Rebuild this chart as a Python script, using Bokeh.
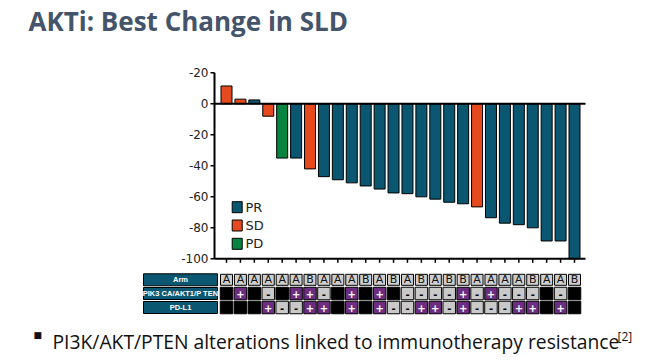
from bokeh.plotting import figure
from bokeh.models import Range1d, ColumnDataSource, Label
from bokeh.core.properties import value
from bokeh.embed import file_html
from bokeh.resources import INLINE

# ---------------- data ----------------
title_text = "AKTi: Best Change in SLD"
footnote_text = "PI3K/AKT/PTEN alterations linked to immunotherapy resistance"
footnote_ref = "[2]"

best_change = [11.5, 3, 2.5, -8, -35, -35, -42, -47, -49, -51, -53, -55, -57.5,
               -58, -60, -61.5, -63.5, -64.5, -66.5, -73.5, -77, -78, -80,
               -88.5, -88.5, -100]
response = ["SD", "SD", "PR", "SD", "PD", "PR", "SD", "PR", "PR", "PR", "PR",
            "PR", "PR", "PR", "PR", "PR", "PR", "PR", "SD", "PR", "PR", "PR",
            "PR", "PR", "PR", "PR"]

y_ticks = [20, 0, -20, -40, -60, -80, -100]
y_tick_labels = ["-20", "0", "-20", "-40", "-60", "-80", "-100"]

legend_labels = ["PR", "SD", "PD"]

row_labels = ["Arm", "PIK3 CA/AKT1/P TEN", "PD-L1"]
arm = ["A", "A", "A", "A", "A", "A", "B", "A", "A", "A", "B", "A", "B", "A",
       "B", "A", "B", "B", "A", "A", "A", "A", "B", "A", "A", "B"]
pik3 = ["", "+", "", "-", "", "+", "+", "-", "", "+", "", "+", "", "-", "-",
        "-", "-", "+", "-", "+", "-", "-", "-", "", "-", ""]
pdl1 = ["", "", "", "+", "-", "-", "+", "+", "", "+", "", "+", "-", "-", "+",
        "+", "-", "+", "-", "-", "-", "+", "+", "", "+", ""]

# ---------------- styles ----------------
COLORS = {"PR": "#0b5670", "SD": "#e5491e", "PD": "#07843f"}
CELL_COLORS = {"+": "#6c2c80", "-": "#c9c9c9", "": "#000000"}
TEXT_DARK = "#222222"

W, H = 667, 361
PXX = 13.92          # pixels per bar slot
PXY = 1.55           # pixels per percentage point
BAR1_PX = 226.0      # canvas x of the first bar
ZERO_PY = 103.3      # canvas y of the zero line

x_start = 1 - BAR1_PX / PXX
y_top = ZERO_PY / PXY


def dx(px):
    return x_start + px / PXX


def dy(py):
    return y_top - py / PXY


p = figure(width=W, height=H, output_backend="svg", toolbar_location=None,
           x_axis_type=None, y_axis_type=None,
           x_range=Range1d(x_start, x_start + W / PXX),
           y_range=Range1d(y_top - H / PXY, y_top),
           min_border=0, min_border_left=0, min_border_right=0,
           min_border_top=0, min_border_bottom=0)
p.outline_line_color = None
p.background_fill_color = "white"
p.border_fill_color = "white"
p.title.visible = False

n = len(best_change)
xs = list(range(1, n + 1))
x0 = dx(214)            # y-axis position
x1 = dx(585)            # right end of the axes
y_min, y_max = min(y_ticks), max(y_ticks)

# ---------------- bars ----------------
bars = ColumnDataSource(dict(x=xs, top=best_change,
                             color=[COLORS[r] for r in response]))
p.vbar(x="x", top="top", bottom=0, width=11 / PXX, source=bars,
       fill_color="color", line_color="black", line_width=1)

# ---------------- axes ----------------
p.segment(x0=[x0, x0, x0], y0=[y_min, y_min, 0], x1=[x0, x1, x1],
          y1=[y_max, y_min, 0], line_color="black", line_width=2)
p.segment(x0=[x0 - 4 / PXX] * len(y_ticks), y0=y_ticks,
          x1=[x0] * len(y_ticks), y1=y_ticks, line_color="black", line_width=1.5)
p.text(x=[x0 - 6 / PXX] * len(y_ticks), y=y_ticks, text=y_tick_labels,
       text_font=value("DejaVu Sans"), text_font_size="12px",
       text_color=TEXT_DARK, text_align="right", text_baseline="middle")
p.segment(x0=xs, y0=[y_min] * n, x1=xs, y1=[y_min - 4 / PXY] * n,
          line_color="black", line_width=1.5)

# ---------------- legend ----------------
leg_y = [dy(206.7 + 18.3 * i) for i in range(len(legend_labels))]
p.rect(x=[dx(236.7)] * 3, y=leg_y, width=10, height=11, width_units="screen",
       height_units="screen", fill_color=[COLORS[k] for k in legend_labels],
       line_color="black", line_width=1)
p.text(x=[dx(245)] * 3, y=leg_y, text=legend_labels,
       text_font=value("DejaVu Sans"), text_font_size="13px",
       text_color=TEXT_DARK, text_align="left", text_baseline="middle")

# ---------------- table ----------------
row_y = [dy(279.3), dy(293), dy(307)]
p.rect(x=[dx(180)] * 3, y=row_y, width=74, height=12, width_units="screen",
       height_units="screen", fill_color="#0b5670", line_color="black",
       line_width=1)
p.text(x=[dx(180)] * 3, y=row_y, text=row_labels,
       text_font=value("Liberation Sans"), text_font_size="7.5px",
       text_font_style="bold", text_color="white", text_align="center",
       text_baseline="middle")

# Arm row
p.rect(x=xs, y=[row_y[0]] * n, width=12, height=11, width_units="screen",
       height_units="screen", fill_color="#cfcfcf", line_color="black",
       line_width=1)
p.text(x=xs, y=[row_y[0]] * n, text=arm, text_font=value("DejaVu Sans"),
       text_font_size="11px", text_color="#111111", text_align="center",
       text_baseline="middle")

# marker rows
cx, cy, cf, ct, cc = [], [], [], [], []
for r, row in enumerate([pik3, pdl1]):
    for i, v in enumerate(row):
        cx.append(i + 1)
        cy.append(row_y[r + 1])
        cf.append(CELL_COLORS[v])
        ct.append(v)
        cc.append("white" if v == "+" else "black")
cells = ColumnDataSource(dict(x=cx, y=cy, fill=cf, text=ct, tc=cc))
p.rect(x="x", y="y", width=12.5, height=12.5, width_units="screen",
       height_units="screen", fill_color="fill", line_color="black",
       line_width=1, source=cells)
p.text(x="x", y="y", text="text", text_color="tc", source=cells,
       text_font=value("DejaVu Sans"), text_font_size="10px",
       text_font_style="bold", text_align="center", text_baseline="middle")

# ---------------- title and footnote ----------------
p.add_layout(Label(x=28, y=H - 20, x_units="screen", y_units="screen",
                   text=title_text, text_font="Open Sans",
                   text_font_size="26px", text_font_style="bold",
                   text_color="#44546a", text_baseline="alphabetic"))
p.add_layout(Label(x=33, y=H - 334, x_units="screen", y_units="screen",
                   text="\u25a0", text_font="DejaVu Sans",
                   text_font_size="9px", text_color="#111111",
                   text_baseline="middle"))
p.add_layout(Label(x=52, y=H - 340.5, x_units="screen", y_units="screen",
                   text=footnote_text, text_font="Open Sans",
                   text_font_size="19.3px", text_color="#111111",
                   text_baseline="alphabetic"))
p.add_layout(Label(x=617, y=H - 335.5, x_units="screen", y_units="screen",
                   text=footnote_ref, text_font="Open Sans",
                   text_font_size="12px", text_color="#111111",
                   text_baseline="alphabetic"))

open("out.html", "w").write(file_html(p, INLINE))
